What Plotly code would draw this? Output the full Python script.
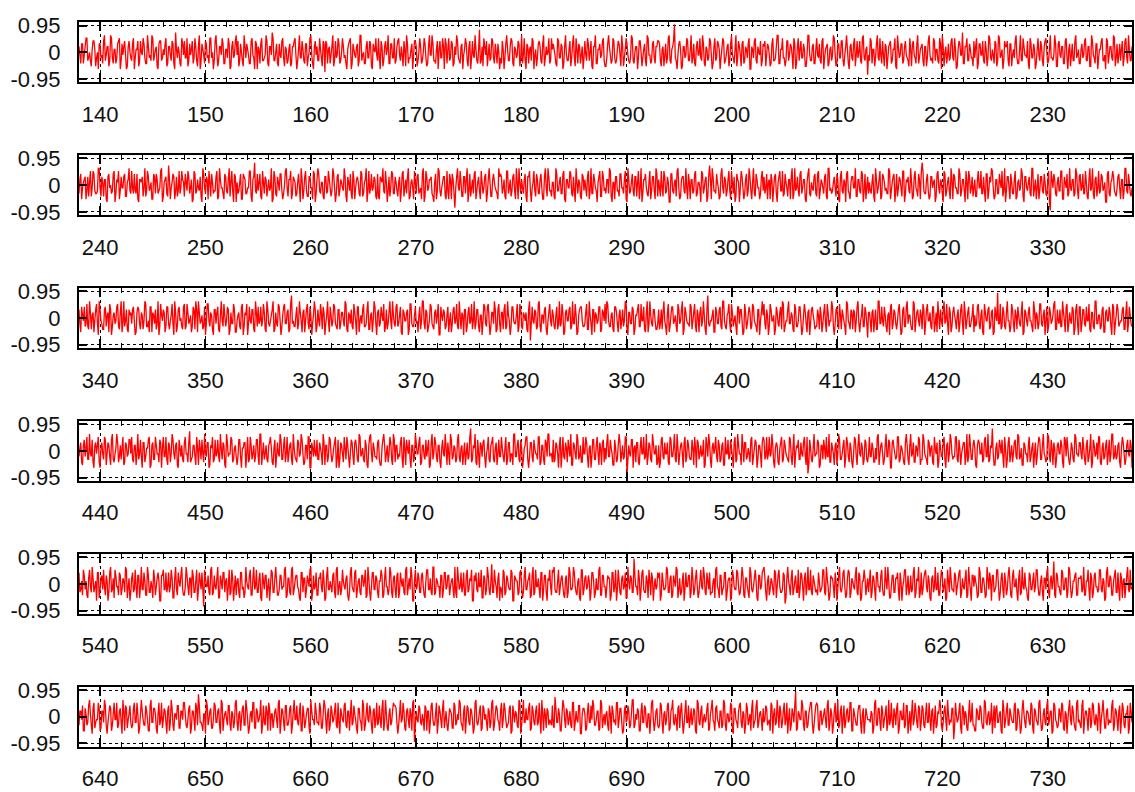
import plotly.graph_objects as go

# Start of each row's x window (each window spans 100 units)
row_starts = [138, 238, 338, 438, 538, 638]
y_ticks = [-0.95, 0, 0.95]
y_tick_text = ["-0.95", "0", "0.95"]
y_grid = [-0.95, 0.95]
AMP_UNIT = 0.1   # value unit of the sample lists below

# Signal samples, in units of AMP_UNIT.
# Each row is stored as two lists: "a" holds the even samples, "b" the odd samples.
row1_a = [2,-4,3,-1,5,-3,0,-5,4,1,-2,-6,3,-1,4,-3,2,-5,6,-2,1,-4,3,5,-3,-1,4,-6,2,0,
-3,5,-2,1,-5,4,-1,3,-4,6,-2,-3,5,-1,2,-6,4,-3,1,3,-5,2,-1,4,-4,7,-2,0,-5,3,
4,-2,-5,3,1,-4,5,-3,2,-6,3,-1,4,-2,-4,5,0,-3,6,-5,2,-1,3,-4,1,5,-6,2,-2,4,
-1,-5,3,-3,6,-2,1,-4,4,-1,-6,3,2,-4,5,-3,-1,4,-5,2,7,-3,0,-4,3,-2,5,-5,1,-3,
3,-4,2,5,-6,1,-2,4,-3,3,-5,0,6,-4,2,-1,-3,5,-2,4,-7,3,1,-4,2,-5,4,-1,3,-3,
5,-2,-4,1,4,-6,3,-1,2,-5,6,-3,0,-4,4,-2,3,-6,1,5,-3,-2,4,-5,2,-1,6,-4,3,-2,
-4,2,5,-3,-1,4,-5,3,-2,1,-6,4,2,-3,5,-4,0,3,-5,2,-1,6,-3,-4,4,1,-2,5,-6,3,
1,-3,4,-5,2,6,-2,-4,3,-1,5,-3,2,-6,4,-2,1,-4,8,-3,-5,2,4,-1,-3,5,-2,3,-4,0,
-2,4,-6,3,1,-3,5,-4,2,-2,4,-5,6,-1,-3,3,-4,2,5,-6,1,-2,4,-3,3,-5,2,0,-4,5,
3,-1,-5,4,-2,2,-4,6,-3,1,-5,3,-2,5,-4,2,-1,-6,4,-3,3,0,-5,2,6,-4,1,-2,4,-3,
-5,3,2,-4,5,-2,-3,4,-1,6,-5,1,3,-3,-2,5,-4,2,-6,4,0,-2,3,-5,5,-1,-3,4,-4,2,
4,-3,1,-5,3,-2,6,-4,2,10,-3,-1,4,-6,2,-2,5,-3,1,-4,3,-5,4,-1,-2,6,-4,2,-3,5,
-1,-4,5,-2,3,-6,1,4,-3,2,-5,3,-1,-4,6,-2,2,-5,4,-3,1,3,-6,2,-2,5,-4,0,4,-3,
2,-5,3,-1,-4,5,-3,2,6,-4,1,-2,-5,4,-3,3,-1,5,-6,2,-3,4,-2,1,-5,6,-1,-3,3,-4,
5,-2,-3,4,-6,1,3,-4,2,-1,5,-5,3,-2,4,-3,-1,6,-4,2,-2,3,-5,4,0,-3,5,-2,1,-8,
-3,4,1,-5,3,-2,5,-4,-1,3,-6,2,4,-3,1,-5,6,-2,3,-4,2,-1,-3,5,-5,4,-2,3,-4,1,
3,-5,2,-2,6,-3,-4,4,1,-3,5,-6,2,0,-4,3,-2,5,-3,1,-5,4,-1,7,-4,2,-3,3,-2,-5,
-2,5,-4,3,-1,-3,4,-5,6,-2,1,-4,3,-3,5,-1,-6,4,2,-3,3,-5,1,4,-2,-4,6,-3,2,-1,
4,-6,3,-2,1,-4,5,-3,2,-5,4,0,-3,6,-2,-1,3,-5,4,-2,2,-4,5,-6,3,-1,-3,4,-2,1,
-4,3,-1,5,-3,2,-5,4,-2,3,-6,1,4,-3,-1,5,-4,2,-2,6,-5,3,-1,-3,4,-2,5,-4,1,-3]
row1_b = [-1,3,-4,2,5,-2,-3,1,4,-5,0,3,-2,-4,6,-1,2,-3,5,-4,1,-2,4,-6,3,2,-1,-5,4,-2,
3,-6,1,4,-3,0,5,-2,-4,2,-1,6,-3,1,-5,3,4,-2,-1,5,-4,2,-3,3,-6,1,2,-4,5,-1,
-2,5,-3,-1,4,-2,2,-5,6,-3,1,-4,3,-1,5,-2,-6,4,0,-3,2,5,-4,1,-2,3,-5,4,-1,6,
4,-3,0,-5,2,3,-1,-4,5,-2,4,-6,1,3,-3,-2,6,-4,2,-1,5,-3,3,-5,-1,4,-2,2,-4,1,
-5,2,4,-1,-3,6,-2,1,-4,3,-2,5,-1,-6,4,2,-3,1,-5,3,4,-4,2,-1,6,-3,-2,5,-4,0,
2,-1,-6,3,5,-4,1,-2,3,-3,6,-1,-4,2,-2,4,-5,3,0,-1,5,-6,2,-3,4,1,-4,3,-2,5,
-3,4,-1,2,-5,1,6,-4,-2,3,-1,4,-5,0,2,-3,5,-2,-4,6,-1,3,-3,1,-6,4,-2,2,5,-4,
5,-2,3,-4,-1,4,-3,2,-6,1,3,-5,4,-2,-1,6,-3,1,-4,2,5,-1,-5,3,-2,4,-4,0,3,-6,
-4,1,-2,6,-3,2,4,-5,1,-1,3,-2,-4,5,-6,2,1,-3,4,-1,-5,3,2,-4,6,-2,-1,5,-3,1,
1,-4,5,-2,3,-6,2,-1,-3,4,-2,6,-5,1,3,-4,2,-2,-1,5,-3,4,-6,2,-4,1,3,-1,5,-5,
-2,6,-1,-3,4,-4,1,3,-5,2,-2,5,-1,-4,6,-3,0,2,-2,4,-5,1,-3,6,-1,-4,3,-2,2,4,
3,-5,2,-1,-4,5,-3,1,4,-2,-6,3,1,-5,2,-1,4,-3,6,-2,-4,2,-1,5,-3,3,-5,1,-2,4,
-6,2,-3,4,1,-2,5,-4,-1,3,-3,6,-2,1,-5,4,-1,3,-4,2,-2,5,-6,1,4,-3,2,-1,-5,3,
4,-1,2,-5,3,-3,-2,6,-4,1,5,-2,-3,4,-1,2,-6,3,-4,5,1,-2,3,-5,-1,6,-3,2,-4,1,
-1,3,-4,5,-2,2,-5,1,-3,6,-1,-4,3,-2,4,-5,2,1,-6,3,-3,5,-1,-2,4,-4,6,-3,2,-1,
5,-4,1,-2,6,-3,-1,4,-5,2,-2,3,-4,1,5,-6,2,-1,3,-3,4,-2,-5,1,3,-1,-4,6,-2,2,
-3,2,-5,4,-1,-2,5,-3,1,-4,3,6,-5,2,-1,-3,4,-2,5,-6,1,3,-1,-4,2,5,-3,1,-2,4,
2,-6,3,-1,4,-4,1,-2,5,-3,-1,4,-5,6,-2,1,-3,2,4,-5,3,-1,-2,6,-4,1,-3,5,-1,-2,
-4,5,-2,3,-6,1,-1,4,-3,2,5,-4,1,-2,-3,6,-5,3,-1,2,-4,4,-2,1,-5,3,-3,6,-1,-4,
1,-2,4,-3,2,-5,6,-1,-4,3,-2,1,5,-3,-6,4,-1,2,-3,5,-2,-4,3,1,-5,4,-2,6,-3,2]

row2_a = [-3,4,-1,2,-5,3,1,-4,5,-2,-3,6,-1,3,-4,2,-6,4,0,-2,5,-3,1,-5,3,-1,4,-4,2,-2,
5,-3,-2,4,-6,2,3,-1,-4,5,-2,1,-5,3,4,-3,-1,6,-4,2,-3,7,-5,1,3,-2,-4,5,-1,2,
-4,1,5,-3,2,-5,4,-2,-1,3,-6,4,-3,2,5,-4,1,-2,3,-5,6,-1,-3,4,-2,2,-4,5,-6,3,
1,-2,4,-5,3,-3,-1,5,-4,2,8,-3,-2,4,-5,1,3,-4,2,-1,-6,5,-3,3,-2,4,-5,0,6,-4,
2,-5,3,1,-3,4,-6,2,-2,5,-4,3,-1,-5,4,-3,6,-2,1,-4,3,-3,5,-1,-2,4,-6,3,-4,2,
-1,6,-4,3,-2,-3,5,-5,2,1,-4,4,-3,2,-6,5,-1,-2,3,-4,4,-5,2,6,-3,1,-2,-4,5,-3,
3,-2,1,-6,4,-4,2,3,-5,1,-1,5,-3,4,-2,-5,6,-4,3,-1,2,-3,-6,4,-2,5,-4,1,3,-5,
-2,4,-5,2,-8,3,-1,5,-4,3,-3,6,-2,-4,2,4,-5,1,-2,5,-3,3,-6,2,1,-4,4,-1,-3,6,
4,-3,2,-5,5,-1,-4,3,-2,6,-5,1,2,-3,4,-6,3,-2,-1,5,-4,2,-3,4,-5,3,-1,6,-2,-4,
1,-5,4,-2,3,-3,5,-6,2,-1,4,-4,-2,6,-3,1,-5,3,2,-4,5,-2,-3,4,-1,-6,3,-4,5,-2,
-3,2,6,-4,1,-5,3,-2,4,-1,-3,5,-6,2,-2,4,-4,3,1,-5,6,-3,2,-1,-4,5,-2,3,-5,4,
2,-4,-1,5,-3,3,-6,4,-2,1,-4,6,-5,2,3,-3,-1,4,-5,2,-2,5,-3,1,-6,4,-1,3,-4,7,
-5,3,-2,4,-1,-4,6,-3,2,-2,5,-5,1,3,-4,2,-6,5,-1,-3,4,-2,3,-5,6,-4,2,-1,-3,5,
3,-1,-5,2,4,-6,3,-3,1,5,-2,-4,4,-1,2,-5,6,-3,-2,3,-4,5,-1,2,-6,4,-3,1,-2,4,
-4,5,-2,1,-3,4,-5,6,-1,-2,3,-4,2,-6,5,-3,1,4,-2,-5,3,-1,6,-4,2,-3,4,-2,-5,3,
1,-3,4,-6,2,-1,5,-4,3,-2,-3,6,-5,1,4,-2,-4,3,-1,5,-6,2,3,-3,1,-4,5,-2,4,-5,
8,-2,-3,4,-5,3,-1,2,-4,5,-3,1,-6,4,-2,3,-5,2,4,-1,-3,6,-4,2,-2,5,-5,3,-1,-4,
2,-4,5,-1,-3,3,-6,4,-2,1,5,-5,2,-3,4,-1,-4,6,-2,3,-5,1,-3,5,-4,2,-1,4,-6,3,
-2,3,-4,6,-1,-5,4,-2,3,-3,1,-4,5,-9,2,4,-3,1,-2,5,-5,3,-1,-4,6,-2,2,-3,4,-5,
4,-1,-3,5,-4,2,-2,6,-5,3,-1,-3,4,-2,1,-6,5,-4,2,3,-3,-1,4,-5,2,-2,6,-3,1,-4]
row2_b = [2,-5,1,3,-2,-4,5,-1,4,-3,-2,6,-4,1,2,-5,3,-1,-3,4,-6,2,5,-2,-1,3,-4,1,6,-3,
-1,4,-3,-5,2,1,-4,6,-2,3,-1,-5,4,-3,2,-2,5,-6,1,3,-4,2,-1,4,-5,3,-2,-3,5,1,
4,-2,3,-1,-6,5,-3,2,-2,-4,6,-1,3,-5,1,4,-3,-2,5,-4,2,-1,-5,3,-3,6,1,-2,4,-6,
-3,1,-5,4,2,-3,-1,5,-6,3,-2,4,1,-4,5,-3,2,-1,-2,6,-5,3,-4,1,4,-2,-3,5,-1,2,
5,-3,2,-4,1,-1,6,-5,3,-2,-4,3,-1,5,-6,2,4,-3,1,-5,3,-2,2,-4,6,-1,-3,4,-2,1,
-2,3,-6,1,4,-5,2,-1,3,-3,5,-4,1,6,-2,-3,4,-1,2,-5,-4,3,1,-2,5,-6,3,-1,4,-3,
1,-4,3,-2,5,-1,-3,6,-4,2,-5,1,3,-3,-1,4,-6,5,-2,2,3,-4,1,-5,6,-2,-1,3,-4,5,
-5,2,4,-3,-1,6,-2,1,-4,3,2,-6,4,-1,-3,5,-2,3,-5,1,-1,4,-3,6,-4,2,1,-2,-5,3,
3,-1,-4,5,-3,2,-2,4,-5,1,6,-3,-1,2,-4,3,5,-6,1,-2,4,-3,2,-1,-5,6,-4,3,-2,1,
-4,6,-2,1,-3,4,-5,2,-1,5,-3,3,-6,1,2,-4,4,-2,-1,3,-5,6,-3,2,-2,1,5,-4,3,-1,
2,-3,5,-6,1,3,-2,-4,4,-1,2,-5,6,-3,1,-2,3,-4,5,-1,-6,2,4,-3,1,-5,3,-2,6,-4,
-1,5,-4,3,-2,1,-6,4,-3,2,5,-1,-4,3,-2,6,-5,1,2,-3,4,-4,1,-1,5,-3,2,-6,3,2,
6,-2,-3,1,-5,4,-1,3,-4,2,-2,5,-3,-6,4,1,-1,3,-5,2,-4,6,-2,1,-3,4,-1,-5,3,-2,
-3,4,1,-5,2,-1,4,-6,3,-2,5,-3,1,-4,2,3,-5,6,-1,-2,4,-3,2,-5,1,6,-4,-1,3,-3,
4,-5,2,-1,3,-4,6,-2,-3,1,-1,4,-5,3,-2,2,-6,5,-3,1,3,-1,-4,2,-2,5,-6,4,-1,-3,
-2,1,-4,6,-3,2,-5,4,1,-1,-3,5,-2,3,-6,4,-1,2,-4,5,-3,1,-2,6,-5,3,-1,-4,2,4,
5,-3,2,-2,-4,3,1,-6,4,-1,2,-3,5,-4,1,-2,6,-5,3,-1,-3,4,-2,2,-6,1,5,-3,3,-1,
-4,2,-1,5,-3,-2,4,-5,3,6,-1,-4,2,-3,1,5,-2,-6,3,-1,4,-3,2,-5,1,-2,6,-4,3,-1,
1,-3,6,-4,2,-1,-5,3,-2,4,-3,1,-6,5,-1,2,-4,3,-2,5,-5,1,4,-3,-1,2,-4,6,-2,3,
-2,4,-3,1,-5,6,-1,-3,2,-4,5,-2,3,-1,-6,4,-3,1,5,-2,-4,3,-1,2,-5,6,-2,4,-3,-1]

row3_a = [3,-5,1,4,-2,-3,6,-4,2,-1,5,-6,3,-2,-4,4,1,-5,3,-3,2,-1,5,-4,6,-2,-3,3,-5,1,
-2,4,-6,2,3,-4,1,-1,5,-3,-5,4,2,-2,-4,6,-3,1,3,-5,4,-2,-1,5,-6,2,-3,4,0,-4,
5,-3,2,-1,-5,4,-4,3,6,-2,1,-3,-6,5,-1,2,-4,3,-2,4,-5,6,-3,1,-1,3,-4,-2,5,-5,
-1,2,-4,5,-3,1,-6,4,-2,3,-5,2,4,-1,-3,5,-4,6,-2,-1,3,-5,2,-3,4,-6,1,5,-2,3,
-4,8,-1,-3,4,-2,2,-5,3,-1,5,-4,1,-2,6,-5,3,-3,2,4,-6,1,-1,4,-3,5,-2,-4,3,-2,
2,-3,5,-5,1,3,-4,2,-6,4,-1,-2,5,-3,3,-4,1,-5,6,-2,2,-3,4,-1,-5,3,-2,6,-4,1,
-3,5,-2,4,-6,2,-1,3,-4,5,-3,1,-2,-5,4,-1,6,-4,2,-3,5,-2,-4,3,1,-6,4,-1,2,-3,
4,-1,-5,3,-2,5,-4,1,2,-6,3,-3,4,-1,-4,6,-2,3,-5,1,-1,4,-3,5,-6,2,-2,3,-4,5,
-5,2,3,-4,6,-1,-3,4,-2,1,-5,5,-3,2,-1,-4,3,-8,4,-2,2,-3,6,-5,1,3,-4,-1,5,-3,
1,-4,4,-2,-3,5,-6,2,-1,3,-4,6,-2,1,-5,3,4,-3,-2,5,-4,1,-6,3,2,-2,4,-5,3,-1,
-2,5,-3,1,-4,4,2,-5,3,-1,-3,6,-4,2,-2,4,-6,1,3,-3,5,-1,-4,2,-5,6,-2,3,-1,-4,
3,-2,-4,6,-3,2,-5,1,4,-1,-3,5,-2,3,-6,4,-1,-2,5,-4,2,-3,3,-5,4,-1,1,-6,8,-3,
-1,3,-5,2,-2,4,-4,6,-3,1,5,-5,2,-1,-3,4,-2,3,-6,5,-4,1,2,-3,4,-2,-5,3,-1,6,
5,-4,1,-3,3,-1,-6,4,-2,2,-4,5,-3,-1,6,-2,1,-5,3,-3,4,-1,-4,5,-2,2,-6,3,1,-4,
-3,1,4,-5,2,-2,5,-3,-1,4,-6,3,-2,5,-4,1,-3,6,-1,-4,2,3,-5,4,-2,-1,5,-3,2,-7,
2,-5,3,-1,-4,6,-2,4,-3,1,-5,2,4,-4,3,-2,-1,5,-6,3,-3,4,-2,1,-4,6,-5,2,-1,3,
-4,3,-2,5,-1,-3,4,-5,2,6,-4,-1,3,-2,5,-6,2,-3,4,-1,1,-5,3,-2,6,-4,2,-3,-1,5,
1,-2,5,-4,3,-6,2,-1,4,-3,3,-5,1,9,-2,-4,4,-3,2,-1,-5,5,-2,3,-4,1,-3,6,-5,2,
-3,4,-1,-5,3,2,-4,5,-2,1,-6,4,-3,2,-1,5,-4,3,-2,-3,6,-1,4,-5,2,-2,3,-4,5,-6,
4,-2,3,-3,-1,5,-5,2,-4,6,-2,1,-3,4,-5,3,-1,2,-6,4,-2,5,-3,-1,3,-4,2,-5,4,-2]
row3_b = [-2,4,-1,-3,5,-4,2,1,-5,3,-2,6,-1,-4,3,-3,2,5,-6,1,-2,4,-3,2,-5,6,-1,-4,3,2,
3,-1,-5,4,-2,2,-4,6,-3,-1,4,-5,1,3,-2,-6,5,-1,2,-3,4,-4,1,-2,6,-5,3,-1,-3,4,
-4,5,-2,1,-3,3,6,-5,2,-1,-4,4,-2,5,-3,1,-6,3,2,-4,1,-1,5,-3,4,-6,2,-2,3,-5,
1,-3,4,-6,2,5,-2,-1,3,-4,6,-3,-2,4,-1,2,-5,3,-3,1,6,-4,-2,5,-1,-3,4,-2,2,-5,
5,-2,-3,1,-4,6,-1,2,-5,3,-2,4,-6,1,3,-3,-1,5,-4,2,-2,6,-5,1,-1,4,-3,3,-4,2,
-1,6,-4,2,-2,-3,5,-1,4,-5,1,3,-3,-2,6,-4,2,-1,4,-6,3,-2,1,5,-3,-4,2,-1,6,-2,
4,-3,1,-5,3,-1,2,-6,5,-2,-3,4,-1,1,-4,6,-2,3,-5,-1,4,-3,2,-2,5,-6,1,3,-4,1,
-5,2,-2,4,-1,-3,6,-4,1,3,-5,2,-2,5,-1,-4,3,-3,1,-6,5,-2,4,-1,-3,2,6,-5,3,-2,
2,-4,5,-3,1,-6,4,-1,-2,5,-3,3,-4,1,2,-5,6,-2,-1,3,-4,5,-3,1,-2,4,-6,2,-1,3,
-3,1,-4,6,-2,2,-5,3,-1,4,-3,-2,5,-6,1,4,-1,-3,2,-4,6,-2,3,-5,1,-1,4,-4,2,5,
6,-1,-3,2,-5,4,-2,1,-4,3,-1,5,-6,2,-2,3,-4,1,5,-3,-1,4,-5,6,-2,1,-3,3,-4,-2,
-4,3,2,-1,-6,5,-3,4,-2,1,-5,3,-1,6,-4,2,-2,-3,4,-1,5,-5,1,2,-3,6,-4,3,-2,-1,
1,-5,4,-2,3,-3,6,-1,-4,2,-2,5,-3,1,-6,4,3,-1,-5,2,-2,4,-4,5,-1,-3,3,-6,2,1,
-2,3,-6,5,-1,1,-4,2,-3,4,6,-5,-1,3,-2,2,-4,5,-3,-1,4,-6,1,2,-5,3,-2,4,-1,-3,
3,-4,1,-2,5,-5,2,-1,6,-3,-2,4,-4,1,3,-1,-6,5,-2,3,-4,2,-1,6,-5,1,-3,4,-2,2,
-1,2,-5,3,-4,6,-2,-1,4,-3,1,-6,5,-2,2,-4,3,-1,-5,4,-3,6,1,-2,-4,5,-1,3,-3,1,
5,-6,3,-1,2,-4,4,-2,-5,1,3,-3,6,-1,-2,4,-5,2,1,-4,3,-2,5,-6,2,-1,4,-3,1,-5,
-3,4,-2,1,-5,5,-1,3,-4,2,-6,4,-1,-2,5,-3,2,-4,6,-1,-3,3,-5,1,4,-2,2,-6,3,-1,
2,-1,-3,6,-4,1,-2,5,-3,3,-1,-5,4,-2,1,6,-4,-1,3,-3,2,-5,5,-2,-1,4,-6,3,-2,4,
-5,3,-2,4,-1,-4,2,-3,6,-2,1,-4,3,-5,2,-1,4,-3,5,-6,1,3,-2,-1,4,-4,6,-2,1,-3]

row4_a = [-2,3,-5,4,1,-3,6,-2,-4,2,-1,5,-6,3,-3,4,-1,2,-5,6,-4,1,3,-2,-3,5,-4,2,-1,4,
5,-4,2,-1,-3,4,-6,3,-2,1,5,-5,3,-3,2,-1,4,-6,5,-2,-3,3,-4,6,-1,2,-5,4,-2,-3,
3,-1,-4,7,-3,2,-2,5,-5,1,4,-4,-1,3,-6,2,5,-3,-2,4,-4,1,3,-5,6,-2,-1,4,-3,2,
-5,4,-2,1,3,-6,5,-3,2,-1,-4,4,-2,6,-5,3,-1,-3,2,5,-4,1,-6,3,-2,4,-3,5,-1,-4,
2,-3,6,-2,-4,3,-1,4,-5,2,-3,5,-6,1,4,-2,-3,3,-1,6,-5,2,-2,4,-4,1,5,-3,-6,3,
-1,5,-3,2,-6,4,-2,3,1,-4,5,-1,-3,4,-5,2,6,-4,1,-2,3,-3,-5,4,2,-1,-4,5,-3,6,
-4,2,-1,3,-3,5,-5,1,4,-6,2,-2,3,-1,5,-4,2,-3,-2,4,-5,6,-1,3,-4,2,-6,4,-2,1,
3,-5,4,-2,1,-3,6,-4,2,-1,-5,3,-2,8,-3,1,-4,4,-6,2,3,-2,-1,5,-4,3,-3,1,-5,4,
-2,1,-4,5,-3,3,-1,-5,6,-2,4,-4,1,-3,2,5,-6,3,-2,4,-1,-3,5,-4,2,-5,3,6,-2,-1,
4,-3,2,-6,5,-1,-2,3,-4,1,6,-5,2,-3,4,-2,-4,5,-1,3,-6,2,-2,4,-3,5,-5,1,3,-4,
-3,6,-2,1,-5,4,-4,2,3,-1,-3,5,-9,2,-2,4,1,-4,3,-5,5,-1,-3,6,-2,2,-4,3,-1,-5,
2,-4,5,-3,-1,3,-5,4,-2,6,-4,1,-1,3,-6,5,-2,2,-3,4,-5,1,4,-3,2,-1,-6,5,-2,3,
-6,3,1,-2,4,-4,2,-5,5,-1,-3,4,-2,3,-4,6,-1,-5,2,3,-3,1,-4,5,-2,4,-6,2,-1,3,
4,-2,-3,5,-1,2,-6,3,-4,1,5,-3,2,-2,-4,4,-5,6,-1,1,-3,3,-2,5,-5,-8,4,-3,1,-2,
-1,3,-5,2,4,-3,-2,6,-4,1,-5,3,-1,4,-3,2,-6,5,-2,3,-4,-1,4,-5,6,-2,1,-3,3,-4,
5,-2,1,-4,-3,6,-1,3,-5,2,-2,4,-6,3,1,-3,5,-4,2,-1,-5,6,-3,2,-2,3,-4,1,5,-5,
-3,4,-2,-5,3,1,-4,5,-1,-6,4,-2,3,-3,2,-4,6,-1,-2,5,-3,4,-5,1,3,-2,-4,6,-3,2,
1,-6,4,-1,3,-3,5,-2,-4,2,8,-5,1,-3,4,-1,-2,5,-6,3,-4,2,-1,4,-3,5,-2,-5,3,-1,
-4,5,-2,3,-1,-5,2,4,-3,6,-2,-3,5,-4,1,3,-6,2,-1,4,-4,5,-2,1,-5,3,-3,6,-1,-2,
3,-3,1,-5,4,-2,6,-4,2,-1,-3,5,-5,3,-2,4,-1,-4,6,-3,2,-2,3,-6,5,-1,-3,4,-2,2]
row4_b = [1,-4,2,-2,5,-3,-1,4,-6,3,2,-4,1,-1,5,-5,3,-2,4,-3,-1,6,-4,2,1,-5,3,-2,4,-1,
-3,2,-5,6,-1,-2,3,-4,1,4,-6,2,-3,5,-1,-4,3,1,-2,5,-5,2,-1,4,-3,3,-6,1,2,-4,
5,-1,3,-4,-2,2,-5,1,4,-3,-1,6,-2,3,-5,1,-4,4,-1,-2,6,-3,2,-6,3,-1,5,-4,1,-2,
-2,4,-6,1,3,-1,-4,5,-3,2,-2,4,-5,6,-1,-3,2,-4,3,1,-5,4,-2,-1,6,-3,2,-4,5,-1,
3,-5,1,-3,4,-2,6,-1,-4,2,5,-6,3,-2,-1,4,-3,1,-5,3,2,-4,5,-1,-2,3,-6,4,-3,2,
-4,1,5,-2,-1,3,-5,4,-3,6,-2,1,-4,2,-6,5,-1,3,-2,-3,4,-5,1,6,-4,2,-1,3,-5,4,
2,-3,-2,5,-6,1,4,-1,-3,2,-4,6,-1,3,-5,2,-2,4,1,-6,3,-3,5,-2,2,-4,1,-1,6,-5,
-1,6,-3,2,-4,4,-2,1,-5,3,-1,-3,5,-4,2,6,-5,-1,3,-2,4,-6,1,-3,2,5,-4,3,-1,-2,
5,-2,1,-5,3,-4,-1,6,-2,2,-3,4,-6,1,5,-3,-2,3,-4,1,-1,5,-5,2,-3,4,-2,6,-1,-4,
-4,3,-1,2,-6,5,-3,1,4,-2,-5,3,-1,6,-3,2,-4,-1,5,-2,1,-6,4,-3,2,-1,3,-5,4,1,
3,-2,4,-1,-5,1,-3,6,-4,2,-2,5,-3,-1,4,-6,2,3,-4,1,-1,5,-2,-5,3,-3,6,-1,2,-4,
-6,4,-2,3,-1,-4,5,-2,1,-3,6,-5,2,-1,3,-4,4,-2,-3,1,5,-6,3,-1,-2,4,-5,2,6,-3,
1,-1,5,-4,2,-3,3,-5,-1,4,-2,1,-6,5,-3,2,-1,6,-4,3,-2,-1,4,-5,1,3,-3,2,-6,5,
-3,5,-1,-2,6,-4,1,2,-5,3,-4,4,-1,-3,5,-2,1,-6,2,4,-3,-1,3,-2,5,-5,1,-4,6,-1,
4,-6,2,-3,1,5,-2,-4,3,-1,2,-5,6,-3,-1,4,-2,3,-4,1,-6,5,-2,2,-1,3,-5,4,-3,-1,
-2,3,-4,1,5,-5,2,-1,-3,6,-2,3,-6,4,-1,-2,5,-3,1,-4,3,2,-5,6,-1,-4,2,-2,4,-3,
6,-1,-3,4,-2,2,-5,1,3,-4,1,-2,5,-6,3,-1,4,-3,-2,5,-4,1,-1,3,-5,6,-2,2,-3,4,
-5,2,3,-1,-4,4,-2,6,-3,1,-1,-5,3,-2,2,4,-6,1,-3,5,-1,-4,3,-2,6,-3,1,-5,2,-1,
2,-4,1,-6,3,-2,5,-3,2,-1,-4,6,-2,4,-5,1,-3,3,-1,2,-6,4,5,-3,-2,1,-4,5,-1,3,
-1,5,-3,2,-4,1,-6,4,-2,3,5,-4,1,-3,2,-5,4,-1,6,-2,-3,2,-4,1,3,-5,2,-1,4,-6]

row5_a = [4,-2,-4,3,1,-5,5,-3,2,-1,-6,4,-2,3,5,-4,1,-3,6,-2,-5,3,-1,4,-4,2,-3,5,-1,-6,
2,-3,5,-5,3,-1,-2,4,-4,6,-3,1,-5,2,-1,4,-6,3,5,-2,-3,4,-1,2,-5,6,-4,1,3,-2,
-4,6,-1,2,-5,3,-3,5,-2,1,4,-8,2,-1,-3,5,-4,3,-2,6,-5,1,4,-3,2,-1,-4,5,-6,3,
1,-3,4,-2,-5,6,-1,3,-4,2,-2,5,-3,4,-6,1,3,-5,2,-1,4,-3,6,-4,-2,3,-1,5,-5,2,
-3,5,-4,1,3,-2,-6,4,2,-5,3,-1,6,-3,-2,4,-4,2,-1,5,-6,3,-2,1,-3,4,-5,6,-1,-4,
5,-1,2,-4,-3,6,-2,4,-5,1,-3,3,-1,5,-4,2,-6,4,-2,3,-3,1,5,-5,2,-1,-4,6,-3,2,
-2,3,-5,4,-1,-3,5,-4,2,6,-6,1,-2,4,-3,3,-1,-5,5,-2,2,-4,6,-3,1,-1,3,-5,4,-2,
3,-4,1,-2,6,-5,2,-1,-3,4,-4,5,-2,1,-6,3,4,-3,-1,5,-5,2,-2,3,-4,7,-3,1,-5,4,
-1,-5,4,-3,2,-2,5,-6,3,1,-4,4,-1,-3,6,-2,2,-5,3,-4,5,-1,-2,4,-6,3,-3,2,5,-4,
4,-2,-3,5,-1,3,-4,2,-5,6,-2,-1,4,-3,1,-5,5,-4,2,-2,3,-6,4,1,-3,-2,5,-4,3,-1,
-5,3,2,-4,4,-1,-6,5,-3,2,-2,4,-5,1,3,-3,9,-1,-4,2,-2,5,-3,3,-5,1,4,-6,2,-1,
2,-6,4,-2,-1,5,-3,3,-4,1,6,-5,2,-3,4,-2,-1,3,-5,6,-4,2,-1,-3,5,-2,3,-4,1,4,
-3,1,-5,6,-2,3,-4,-1,4,-3,2,-6,5,-1,-2,4,-4,1,3,-5,2,-3,6,-2,-1,5,-5,3,-2,4,
6,-3,1,-4,2,-2,5,-5,3,-1,-3,4,-7,2,1,-4,5,-2,3,-3,-5,4,-1,2,-4,6,-2,-3,3,-1,
-2,4,-3,-1,5,-4,2,-6,3,2,-5,1,-2,6,-3,4,-1,-4,5,-5,2,-1,3,-3,4,-6,1,5,-4,2,
1,-5,3,-2,4,-1,-3,5,-4,6,-2,1,-5,3,-3,2,4,-6,1,-1,5,-4,3,-2,-3,4,-5,2,6,-3,
-4,2,5,-3,1,-6,3,-1,-2,4,-4,5,-3,2,-5,1,6,-2,-3,3,-1,4,-5,2,-2,5,-4,1,-6,3,
3,-1,-4,4,-3,2,-5,6,-2,1,3,-3,-1,5,-6,2,-2,4,-4,3,1,-5,5,-1,-3,2,-4,6,-2,-1,
-5,4,-2,1,-3,5,-1,-4,3,-6,2,4,-3,1,-2,8,-5,3,-1,-4,4,-2,2,-3,5,-5,1,3,-4,2,
2,-3,6,-4,1,-2,4,-5,3,-1,-3,5,-2,2,-6,4,-1,3,-4,1,5,-3,-2,4,-5,2,-1,6,-3,-2]
row5_b = [-3,1,5,-2,-4,2,-1,6,-3,1,4,-5,2,-2,-1,3,-6,4,-3,2,5,-1,-4,3,-2,1,6,-5,2,-3,
4,-2,-1,3,-5,6,-2,1,-4,3,-3,-1,5,-4,2,1,-6,3,-2,4,-1,-3,5,-5,2,-2,4,-1,6,-4,
-1,3,-4,2,5,-3,1,-6,4,-2,-2,5,-1,3,-4,6,-3,-1,2,-5,3,-2,4,1,-6,5,-3,2,-1,-4,
2,-5,4,-1,-3,1,-2,5,-4,6,-1,-3,2,-5,4,-2,3,-1,-6,5,-3,2,1,-4,3,-2,-1,6,-4,2,
-4,6,-2,3,-1,-5,4,-3,2,-2,1,5,-6,3,-1,-4,2,4,-3,1,-5,6,-2,-1,3,-3,5,-4,1,-2,
1,-2,3,-6,4,-1,-3,5,-2,2,-4,3,1,-5,6,-3,-1,4,-2,2,-5,1,3,-4,6,-1,-2,4,-5,3,
-5,4,-3,1,2,-4,6,-1,-2,3,-6,5,-1,2,-3,4,-4,1,5,-2,-3,6,-4,2,-1,-5,3,-2,4,-1,
3,-1,2,-5,-3,6,-2,4,-1,-4,3,-3,2,5,-6,1,-2,4,-1,-5,3,-4,6,-2,1,-3,5,-1,2,-6,
-2,5,-4,3,-1,-2,4,-6,2,1,-3,5,-5,3,-2,1,4,-4,6,-3,-1,2,-5,4,-2,3,-6,1,-1,5,
6,-3,1,-4,2,-1,-5,3,-3,4,-2,6,-1,-4,2,-6,5,-2,3,-1,1,-3,4,-5,2,-2,6,-4,3,-1,
-1,2,-6,4,-3,5,-2,1,-4,3,-1,-5,6,-2,2,-3,3,-1,5,-6,4,-2,-3,1,5,-4,2,-1,-2,4,
4,-4,1,-2,6,-3,2,-5,3,-1,5,-2,-4,1,-6,4,-1,3,-3,2,-2,5,-5,1,-1,6,-3,4,-2,-4,
-3,2,5,-1,-5,3,-2,4,-6,1,2,-4,3,-2,5,-1,-3,6,-4,2,-1,-5,4,-3,2,1,-6,3,-1,5,
2,-6,3,-2,1,-4,4,-1,5,-3,-2,3,-5,6,-1,2,-4,1,-3,5,-2,3,-6,4,-1,-2,5,-4,1,-3,
-4,1,-2,5,-3,6,-1,-4,2,-1,4,-6,3,-2,-1,5,-5,2,4,-3,1,-2,6,-4,3,-5,1,2,-1,-3,
5,-3,2,-6,4,-1,3,-2,-4,1,6,-5,-1,3,-3,2,-2,4,-6,1,5,-1,-4,3,-2,6,-3,1,-5,4,
-2,4,-1,3,-5,2,-3,6,-2,-4,1,3,-1,-6,5,-3,2,-2,4,-4,1,5,-3,-1,2,-5,6,-2,3,-1,
1,-5,6,-3,2,-1,-4,2,4,-6,3,-2,5,-1,-3,4,-5,1,-2,6,-4,3,-1,2,-6,5,-3,-1,4,-2,
-6,3,-2,4,-1,5,-4,1,-3,2,-2,6,-5,3,1,-4,4,-1,-3,5,-2,2,-5,6,-1,-3,1,4,-4,2,
3,-2,-4,1,5,-6,2,-3,4,-1,-2,5,-3,1,-5,6,-1,2,-4,3,-3,4,-6,2,1,-5,3,-2,5,-1]

row6_a = [-3,2,4,-5,1,-2,6,-3,3,-4,-1,5,-5,2,-2,4,-6,1,3,-3,5,-1,-4,2,-2,6,-5,3,-1,4,
-4,3,-2,5,-6,1,2,-3,4,-1,-5,6,-2,3,-4,1,-3,5,-1,2,-6,4,-2,3,-5,1,4,-4,2,-1,
5,-3,-1,4,-4,2,-5,3,8,-2,-3,1,-6,4,-1,3,-4,5,-2,2,-3,6,-5,1,-1,4,-3,2,-4,5,
-2,1,-5,3,-3,6,-1,-4,2,5,-4,3,-2,1,-6,4,-3,2,5,-5,1,-1,3,-4,6,-2,2,-5,4,-3,
3,-6,2,-1,4,-3,5,-5,1,-2,3,-4,6,-1,-3,2,-2,5,-4,1,4,-6,3,-3,2,-1,5,-4,-2,3,
-1,4,-3,2,-5,6,-2,1,-4,3,-1,-5,4,-3,5,-2,2,-6,3,-1,-3,4,-4,6,-2,1,-5,3,-2,5,
4,-2,-3,6,-1,2,-5,3,-4,1,5,-9,2,-2,3,-3,-1,4,-5,2,-2,5,-3,1,-6,4,-1,3,-4,2,
-5,3,1,-4,4,-2,-1,5,-3,2,-6,4,-2,3,-1,-4,6,-3,2,-5,4,-1,-2,3,-4,5,-5,1,3,-2,
2,-4,5,-1,-3,3,-6,4,-2,1,-4,5,-3,6,-2,-1,3,-5,4,-2,2,-3,5,-6,1,3,-4,2,-1,-3,
-3,7,-2,3,-5,1,4,-4,2,-1,-3,5,-5,2,-2,4,-6,3,1,-4,5,-2,-1,4,-3,2,-5,6,-4,1,
1,-3,4,-6,2,-1,5,-4,3,-2,-5,4,-1,2,-3,6,-4,1,3,-5,2,-2,4,-3,1,-6,5,-1,-2,3,
-4,5,-2,1,-3,4,-5,2,6,-3,-1,3,-4,5,-6,2,-2,4,-1,-3,3,-5,6,-2,2,-4,1,-1,5,-4,
3,-1,-5,4,-2,2,-4,6,-3,1,-2,5,-5,3,-1,-4,4,-2,2,-6,5,-3,1,3,-4,-1,6,-2,2,-5,
-2,4,-3,-1,5,-6,3,-2,1,4,-4,2,-3,5,-1,-5,3,-2,9,-4,1,-1,4,-5,2,-3,3,5,-6,1,
5,-4,2,-3,1,-1,4,-5,3,-6,2,-2,6,-3,4,-1,-4,2,-2,5,-5,3,-1,-3,4,-2,1,-6,3,-1,
-1,2,-6,5,-3,3,-2,4,-4,1,-5,6,-1,-2,3,-3,5,-4,2,-1,-4,4,-6,2,1,-3,5,-2,4,-5,
4,-3,1,-2,5,-5,3,-1,-4,2,6,-3,-2,4,-5,1,-1,3,-8,5,-2,2,-4,4,-3,1,-5,6,-1,-3,
-5,3,-1,4,-2,-4,5,-3,2,-1,-6,4,3,-2,1,-5,6,-4,2,-3,3,-1,-2,5,-4,2,-6,3,1,-4,
2,-2,5,-4,3,-1,-3,6,-5,1,-2,4,-3,2,-6,5,-1,-4,3,-2,4,-5,1,-1,6,-3,2,-4,5,-2,
-3,4,-6,2,-1,3,-4,5,-2,1,-5,3,-1,6,-4,2,-3,-2,4,-5,3,-1,2,-6,5,-3,1,4,-4,2]
row6_b = [2,-1,-5,3,-3,4,1,-6,5,-2,-1,3,-4,2,6,-3,-2,4,-5,1,-1,5,-3,3,-6,2,4,-4,1,-2,
-3,5,-2,1,-4,6,-1,-3,2,-5,4,-2,3,1,-6,5,-1,-4,3,-2,2,-5,6,-3,1,-1,4,-4,2,5,
1,-4,3,-6,2,-1,5,-3,4,-2,-5,1,6,-3,2,-4,-1,4,-2,3,-6,5,-1,2,-3,4,-5,1,-2,6,
-5,2,-1,4,-3,3,-6,1,-2,5,-4,2,-1,6,-3,-2,4,-5,3,1,-4,2,-1,5,-6,3,-2,4,-3,-1,
4,-3,6,-1,-2,2,-5,4,-4,1,3,-6,2,-1,5,-2,-3,3,-4,6,-1,1,-5,4,-2,2,-3,5,-6,1,
-2,5,-4,2,1,-3,4,-1,-6,3,-2,6,-5,1,-1,4,-3,2,-4,5,-2,-1,3,-5,6,-4,1,-3,2,4,
3,-6,1,-2,5,-4,2,-1,3,-5,6,-3,-1,4,-2,1,-5,3,2,-6,4,-1,-3,5,-2,2,-4,6,-1,-3,
-1,2,-4,5,-3,1,6,-2,-5,4,-1,3,-3,2,-6,5,-2,-1,4,-4,3,1,-5,2,-2,6,-3,4,-1,-5,
5,-1,3,-4,-2,4,-5,1,2,-3,6,-6,1,-2,3,-1,5,-4,2,-3,4,-2,-1,6,-5,1,3,-3,-2,4,
-4,3,-2,1,-5,6,-1,3,-3,2,-4,5,-2,-1,4,-6,1,3,-5,2,-2,4,6,-3,-1,2,-4,5,-1,-3,
2,-5,1,4,-2,-3,5,-1,3,-6,2,-2,4,-4,1,6,-3,-1,2,-5,5,-2,3,-4,1,-1,6,-5,2,-3,
-3,4,-6,2,-1,5,-4,3,-2,1,-5,4,2,-1,-3,6,-2,-4,3,-1,2,-6,5,-3,4,-1,-2,3,-5,1,
6,-2,3,-1,-4,2,-3,5,-5,1,-1,4,-6,3,-2,2,5,-4,1,-3,3,-1,-5,6,-2,4,-4,1,-1,3,
-1,3,-2,-5,4,1,-3,6,-4,2,-2,5,-1,-6,3,-3,1,4,-5,2,-1,6,-3,2,-4,1,5,-2,-3,4,
4,-5,2,-1,3,-4,6,-2,1,-3,5,-1,-4,2,-6,4,-2,3,-1,5,-5,1,-3,2,4,-6,3,-2,1,-1,
-2,1,-4,6,-3,3,-5,2,-1,4,-2,-3,5,-4,1,3,-6,2,-1,5,-3,4,-2,-5,6,-1,2,-4,3,-2,
3,-4,5,-2,-1,2,-6,4,-3,1,4,-5,2,-1,6,-3,-2,3,-4,1,-1,5,-6,3,2,-4,1,-2,5,-3,
-5,2,-1,3,-4,6,-2,1,-3,5,-1,-4,4,-2,2,-6,3,-1,5,-3,1,-2,4,-5,3,-1,-4,6,-2,2,
1,-3,4,-6,2,-2,5,-1,-4,3,-3,6,-1,2,-5,4,-2,-3,1,5,-4,2,-6,3,-1,4,-2,-5,6,-1,
-4,6,-1,2,-5,3,-2,4,-3,-1,5,-6,2,1,-4,3,-1,-2,6,-3,2,-5,4,-1,3,-4,1,-6,5,-2]

rows = [(row1_a, row1_b), (row2_a, row2_b), (row3_a, row3_b),
        (row4_a, row4_b), (row5_a, row5_b), (row6_a, row6_b)]

W, H = 1135, 792
x_left, x_right = 79, 1132
row_top0, row_bot0, row_step = 13.5, 75, 136

FONT = dict(family="Liberation Sans, Arial, sans-serif", size=22, color="#111111")

fig = go.Figure()
layout = dict(
    width=W, height=H,
    margin=dict(l=0, r=0, t=0, b=0),
    paper_bgcolor="white", plot_bgcolor="white",
    showlegend=False,
)

for k, (va, vb) in enumerate(rows):
    vals = []
    for a, b in zip(va, vb):
        vals.extend([a, b])
    n = len(vals)
    start = row_starts[k]
    xs = [start + i * 100.0 / (n - 1) for i in range(n)]
    ys = [v * AMP_UNIT for v in vals]
    sfx = "" if k == 0 else str(k + 1)
    fig.add_trace(go.Scatter(
        x=xs, y=ys, mode="lines",
        line=dict(color="#ff0000", width=1.3, simplify=False),
        xaxis="x" + sfx, yaxis="y" + sfx, hoverinfo="skip",
    ))
    top = row_top0 + k * row_step
    bot = row_bot0 + k * row_step
    layout["xaxis" + sfx] = dict(
        domain=[x_left / W, x_right / W],
        anchor="y" + sfx,
        range=[start, start + 100],
        tickmode="linear", tick0=0, dtick=10,
        ticks="inside", ticklen=9, tickwidth=1.5, tickcolor="black",
        minor=dict(dtick=2, tick0=0, ticks="inside", ticklen=5, tickwidth=1,
                   tickcolor="black", showgrid=False),
        showgrid=True, gridcolor="black", gridwidth=1, griddash="dot",
        zeroline=False,
        showline=True, linecolor="black", linewidth=2, mirror="ticks",
        tickfont=FONT, ticklabelstandoff=11,
    )
    layout["yaxis" + sfx] = dict(
        domain=[1 - bot / H, 1 - top / H],
        anchor="x" + sfx,
        range=[-1.07, 1.07],
        tickmode="array", tickvals=y_ticks, ticktext=y_tick_text,
        ticks="inside", ticklen=8, tickwidth=1.5, tickcolor="black",
        showgrid=False,
        minor=dict(tickmode="array", tickvals=y_grid, ticks="",
                   showgrid=True, gridcolor="black", gridwidth=1, griddash="dot"),
        zeroline=False,
        showline=True, linecolor="black", linewidth=2, mirror="ticks",
        tickfont=FONT, ticklabelstandoff=12,
    )

fig.update_layout(**layout)
fig.write_html(
    "out.html",
    config={"displayModeBar": False},
    post_script="document.body.style.margin='0';document.body.style.overflow='hidden';",
)
